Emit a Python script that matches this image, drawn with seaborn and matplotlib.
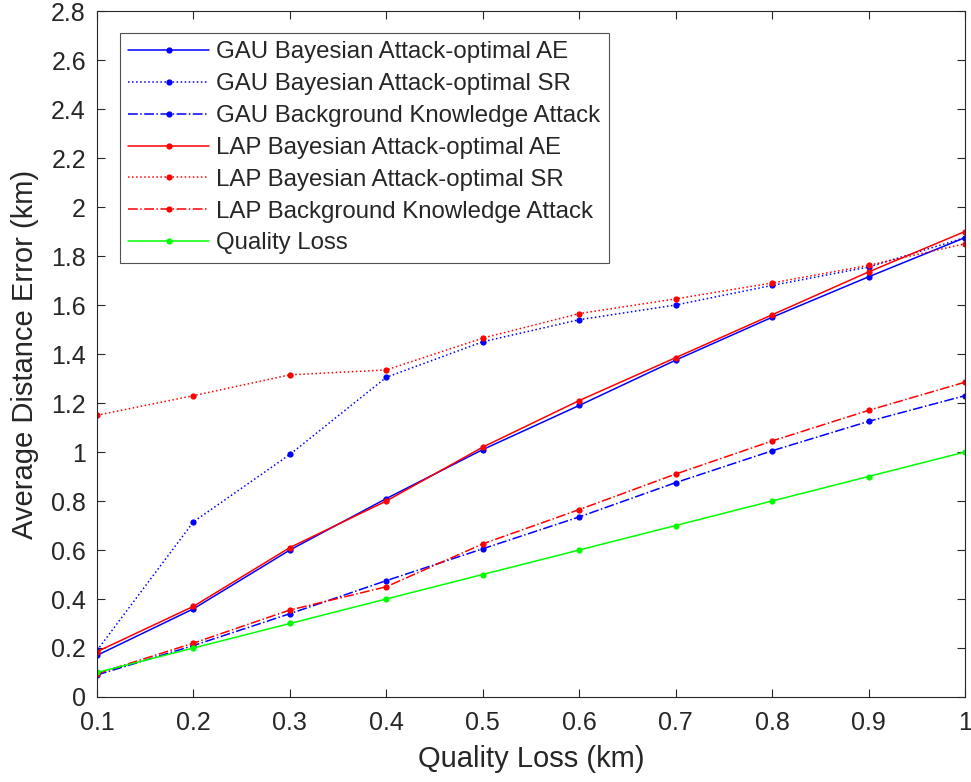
import numpy as np
import pandas as pd
import matplotlib
matplotlib.use('Agg')
import matplotlib.pyplot as plt
import seaborn as sns

quality_loss = [0.1, 0.2, 0.3, 0.4, 0.5, 0.6, 0.7, 0.8, 0.9, 1.0]

gau_ae = [0.17, 0.36, 0.60, 0.81, 1.01, 1.19, 1.375, 1.55, 1.715, 1.875]
gau_sr = [0.19, 0.715, 0.99, 1.305, 1.45, 1.54, 1.60, 1.68, 1.755, 1.875]
gau_bk = [0.09, 0.21, 0.34, 0.475, 0.605, 0.735, 0.875, 1.005, 1.125, 1.23]
lap_ae = [0.185, 0.37, 0.61, 0.80, 1.02, 1.21, 1.385, 1.56, 1.735, 1.90]
lap_sr = [1.15, 1.23, 1.315, 1.335, 1.465, 1.565, 1.625, 1.69, 1.762, 1.85]
lap_bk = [0.095, 0.22, 0.355, 0.45, 0.625, 0.765, 0.91, 1.045, 1.17, 1.285]
ql = [0.1, 0.2, 0.3, 0.4, 0.5, 0.6, 0.7, 0.8, 0.9, 1.0]

labels = ['GAU Bayesian Attack-optimal AE', 'GAU Bayesian Attack-optimal SR',
          'GAU Background Knowledge Attack', 'LAP Bayesian Attack-optimal AE',
          'LAP Bayesian Attack-optimal SR', 'LAP Background Knowledge Attack',
          'Quality Loss']
series = [gau_ae, gau_sr, gau_bk, lap_ae, lap_sr, lap_bk, ql]
colors = ['#0000ff', '#0000ff', '#0000ff', '#ff0000', '#ff0000', '#ff0000', '#00ff00']
styles = ['-', ':', '-.', '-', ':', '-.', '-']

sns.set_style('ticks')
plt.rcParams['font.family'] = ['Liberation Sans', 'DejaVu Sans']

fig = plt.figure(figsize=(9.71, 7.82), dpi=100)
ax = fig.add_axes([0.0999, 0.1087, 0.8939, 0.8772])

for lab, ys, c, ls in zip(labels, series, colors, styles):
    sns.lineplot(x=quality_loss, y=ys, ax=ax, color=c, linestyle=ls, linewidth=1.1,
                 marker='o', markersize=4.5, markeredgewidth=0, label=lab)

ax.set_xlim(0.1, 1.0)
ax.set_ylim(0, 2.8)
ax.set_xticks(quality_loss)
ax.set_xticklabels(['0.1', '0.2', '0.3', '0.4', '0.5', '0.6', '0.7', '0.8', '0.9', '1'])
yt = np.round(np.arange(0, 2.81, 0.2), 1)
ax.set_yticks(yt)
ax.set_yticklabels([f'{v:g}' for v in yt])
ax.tick_params(direction='in', length=5.5, width=0.8, labelsize=18, colors='#262626',
               top=True, right=True)
ax.tick_params(axis='y', pad=8)
ax.tick_params(axis='x', pad=10)
for s in ax.spines.values():
    s.set_visible(True)
    s.set_color('#262626')
    s.set_linewidth(0.8)
ax.set_xlabel('Quality Loss (km)', fontsize=21, color='#262626', labelpad=7)
ax.set_ylabel('Average Distance Error (km)', fontsize=21, color='#262626', labelpad=9)

leg = ax.legend(loc='upper left', bbox_to_anchor=(0.0265, 0.968), borderaxespad=0,
                fontsize=17.3, handlelength=3.35, frameon=True, fancybox=False,
                labelspacing=0.41, borderpad=0.35, handletextpad=0.3)
leg.get_frame().set_edgecolor('#262626')
leg.get_frame().set_linewidth(0.8)

fig.savefig('out.png', dpi=100)
